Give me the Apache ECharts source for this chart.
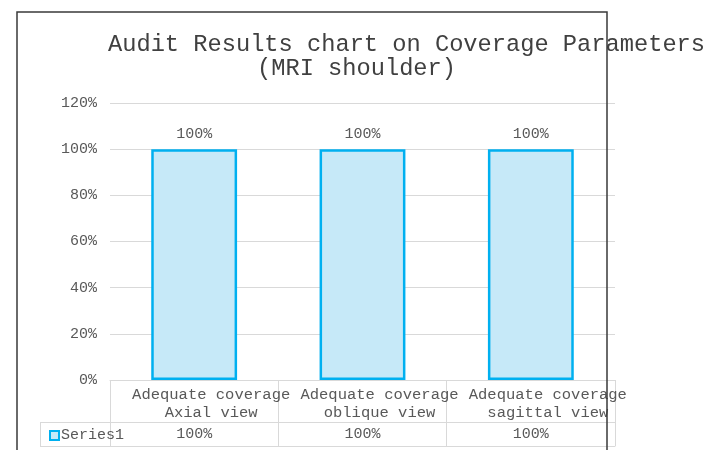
<!DOCTYPE html>
<html>
<head>
<meta charset="utf-8">
<script src="https://cdn.jsdelivr.net/npm/echarts@6/dist/echarts.min.js"></script>
<style>html,body{margin:0;padding:0;background:#fff}#c{width:718px;height:450px}</style>
</head>
<body>
<div id="c"></div>
<script>
var titleLine1 = 'Audit Results chart on Coverage Parameters';
var titleLine2 = '(MRI shoulder)';
var categories = ['Adequate coverage\nAxial view', 'Adequate coverage\noblique view', 'Adequate coverage\nsagittal view'];
var seriesName = 'Series1';
var values = [1.00, 1.00, 1.00];
var yMin = 0, yMax = 1.2, yInterval = 0.2;

function pct(v) { return Math.round(v * 100) + '%'; }
var valueLabels = values.map(pct);

var FONT = 'Liberation Mono';
var TXT = '#595959';
var GRIDC = '#d9d9d9';

var chart = echarts.init(document.getElementById('c'), null, {renderer: 'canvas'});
chart.setOption({
  animation: false,
  backgroundColor: '#ffffff',
  title: [
    {text: titleLine1, left: 103, top: 28, textStyle: {fontFamily: FONT, fontSize: 23.7, fontWeight: 'normal', color: '#404040'}},
    {text: titleLine2, left: 252, top: 52, textStyle: {fontFamily: FONT, fontSize: 23.7, fontWeight: 'normal', color: '#404040'}}
  ],
  legend: {
    data: [seriesName],
    left: 49, top: 428, padding: 0,
    icon: 'rect', itemWidth: 9, itemHeight: 9, itemGap: 0,
    textStyle: {fontFamily: FONT, fontSize: 15, color: TXT, padding: [0, 0, 0, -3]}
  },
  grid: {left: 110, right: 103, top: 103, bottom: 70, containLabel: false},
  xAxis: [
    {
      type: 'category', data: categories, position: 'bottom',
      axisLine: {show: true, lineStyle: {color: GRIDC, width: 1}},
      axisTick: {show: true, length: 66, inside: false, interval: 0, lineStyle: {color: GRIDC, width: 1}},
      axisLabel: {interval: 0, margin: 6, fontFamily: FONT, fontSize: 15.5, lineHeight: 18, color: TXT, padding: [0, 0, 0, 34]}
    },
    {
      type: 'category', data: valueLabels, position: 'bottom', offset: 42,
      axisLine: {show: true, lineStyle: {color: GRIDC, width: 1}},
      axisTick: {show: false},
      axisLabel: {interval: 0, margin: 5, fontFamily: FONT, fontSize: 15, lineHeight: 14, color: TXT}
    },
    {
      type: 'category', data: valueLabels, position: 'bottom', offset: 66,
      axisLine: {show: true, lineStyle: {color: GRIDC, width: 1}},
      axisTick: {show: false},
      axisLabel: {show: false}
    }
  ],
  yAxis: {
    type: 'value', min: yMin, max: yMax, interval: yInterval,
    axisLine: {show: false}, axisTick: {show: false},
    splitLine: {lineStyle: {color: GRIDC, width: 1}},
    axisLabel: {formatter: pct, margin: 13, fontFamily: FONT, fontSize: 15, color: TXT}
  },
  series: [{
    name: seriesName, type: 'bar', xAxisIndex: 0, data: values,
    barWidth: '51%',
    itemStyle: {color: '#c6e9f8', borderColor: '#00b0f0', borderWidth: 2.5},
    label: {show: true, position: 'top', distance: 8, formatter: function (p) { return pct(p.value); },
            fontFamily: FONT, fontSize: 15, color: TXT}
  }],
  graphic: [
    {type: 'line', shape: {x1: 40, y1: 422.5, x2: 110, y2: 422.5}, style: {stroke: GRIDC, lineWidth: 1}, z: 1},
    {type: 'line', shape: {x1: 40, y1: 446.5, x2: 110, y2: 446.5}, style: {stroke: GRIDC, lineWidth: 1}, z: 1},
    {type: 'line', shape: {x1: 40.5, y1: 422, x2: 40.5, y2: 447}, style: {stroke: GRIDC, lineWidth: 1}, z: 1},
    {type: 'rect', shape: {x: 17, y: 12, width: 590, height: 470}, style: {fill: null, stroke: '#3a3a3a', lineWidth: 1.5}, z: 100}
  ]
});
</script>
</body>
</html>
